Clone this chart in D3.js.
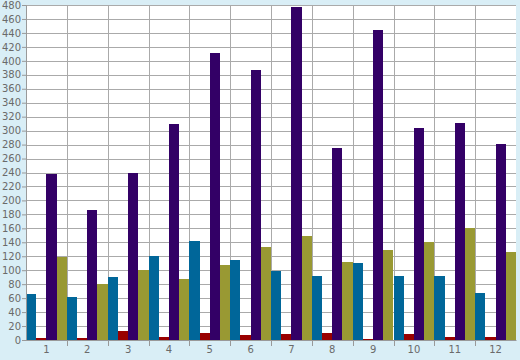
<!DOCTYPE html>
<html>
<head>
<meta charset="utf-8">
<script src="https://cdn.jsdelivr.net/npm/d3@7"></script>
<style>
  body { margin: 0; background: #d9eef6; }
  svg { display: block; }
  .tick text { font-family: "DejaVu Sans", sans-serif; font-size: 10px; fill: #6a6a6a; }
</style>
</head>
<body>
<svg id="chart" width="520" height="360"></svg>
<script>
var categories = ["1", "2", "3", "4", "5", "6", "7", "8", "9", "10", "11", "12"];
var seriesNames = ["teal", "red", "purple", "olive"];
var tealValues = [66, 62, 90, 120, 142, 115, 99, 92, 110, 92, 92, 67];
var redValues = [3, 3, 13, 4, 10, 7, 9, 10, 2, 9, 4, 4];
var purpleValues = [238, 186, 239, 309, 411, 387, 477, 275, 444, 304, 311, 281];
var oliveValues = [119, 80, 100, 87, 107, 133, 149, 112, 129, 140, 160, 126];
var colors = ["#006699", "#990000", "#330066", "#999933"];
var yTicks = d3.range(0, 481, 20);

var svg = d3.select("#chart");
var margin = { top: 5, right: 4, bottom: 20, left: 26 };
var width = 520 - margin.left - margin.right,
  height = 360 - margin.top - margin.bottom;

var g = svg.append("g").attr("transform", "translate(" + margin.left + "," + margin.top + ")");

var x = d3.scaleBand().domain(categories).range([0, width]).padding(0);
var xs = d3.scaleBand().domain(seriesNames).range([0, x.bandwidth()]).padding(0);
var y = d3.scaleLinear().domain([0, 480]).range([height, 0]);

// plot background
g.append("rect").attr("width", width).attr("height", height).attr("fill", "#ffffff");

// horizontal gridlines
g.selectAll(".hgrid")
  .data(yTicks)
  .enter()
  .append("line")
  .attr("x1", 0).attr("x2", width)
  .attr("y1", function(d) { return Math.round(y(d)) + 0.5; })
  .attr("y2", function(d) { return Math.round(y(d)) + 0.5; })
  .attr("stroke", "#aaaaaa");

// vertical gridlines at category boundaries
g.selectAll(".vgrid")
  .data(categories.slice(1))
  .enter()
  .append("line")
  .attr("x1", function(d) { return Math.round(x(d)) + 0.5; })
  .attr("x2", function(d) { return Math.round(x(d)) + 0.5; })
  .attr("y1", 0).attr("y2", height)
  .attr("stroke", "#aaaaaa");

var table = categories.map(function(c, i) {
  return { cat: c, values: [tealValues[i], redValues[i], purpleValues[i], oliveValues[i]] };
});

var groups = g.selectAll(".grp")
  .data(table)
  .enter()
  .append("g")
  .attr("transform", function(d) { return "translate(" + x(d.cat) + ",0)"; });

groups.selectAll("rect")
  .data(function(d) {
    return d.values.map(function(v, j) { return { key: seriesNames[j], value: v, idx: j }; });
  })
  .enter()
  .append("rect")
  .attr("x", function(d) { return xs(d.key); })
  .attr("width", xs.bandwidth())
  .attr("y", function(d) { return y(d.value); })
  .attr("height", function(d) { return height - y(d.value); })
  .attr("fill", function(d) { return colors[d.idx]; })
  .attr("shape-rendering", "crispEdges");

// axes
var yAxis = g.append("g")
  .call(d3.axisLeft(y).tickValues(yTicks).tickSize(4).tickPadding(1));
yAxis.select(".domain").attr("stroke", "#999999");
yAxis.selectAll(".tick line").attr("stroke", "#999999");

var xAxis = g.append("g")
  .attr("transform", "translate(0," + height + ")")
  .call(d3.axisBottom(x).tickSize(0).tickPadding(6));
xAxis.select(".domain").attr("stroke", "#999999");

// tick marks at group boundaries
xAxis.selectAll(".bound")
  .data(categories.slice(1))
  .enter()
  .append("line")
  .attr("x1", function(d) { return Math.round(x(d)) + 0.5; })
  .attr("x2", function(d) { return Math.round(x(d)) + 0.5; })
  .attr("y1", 0).attr("y2", 6)
  .attr("stroke", "#999999");
</script>
</body>
</html>
